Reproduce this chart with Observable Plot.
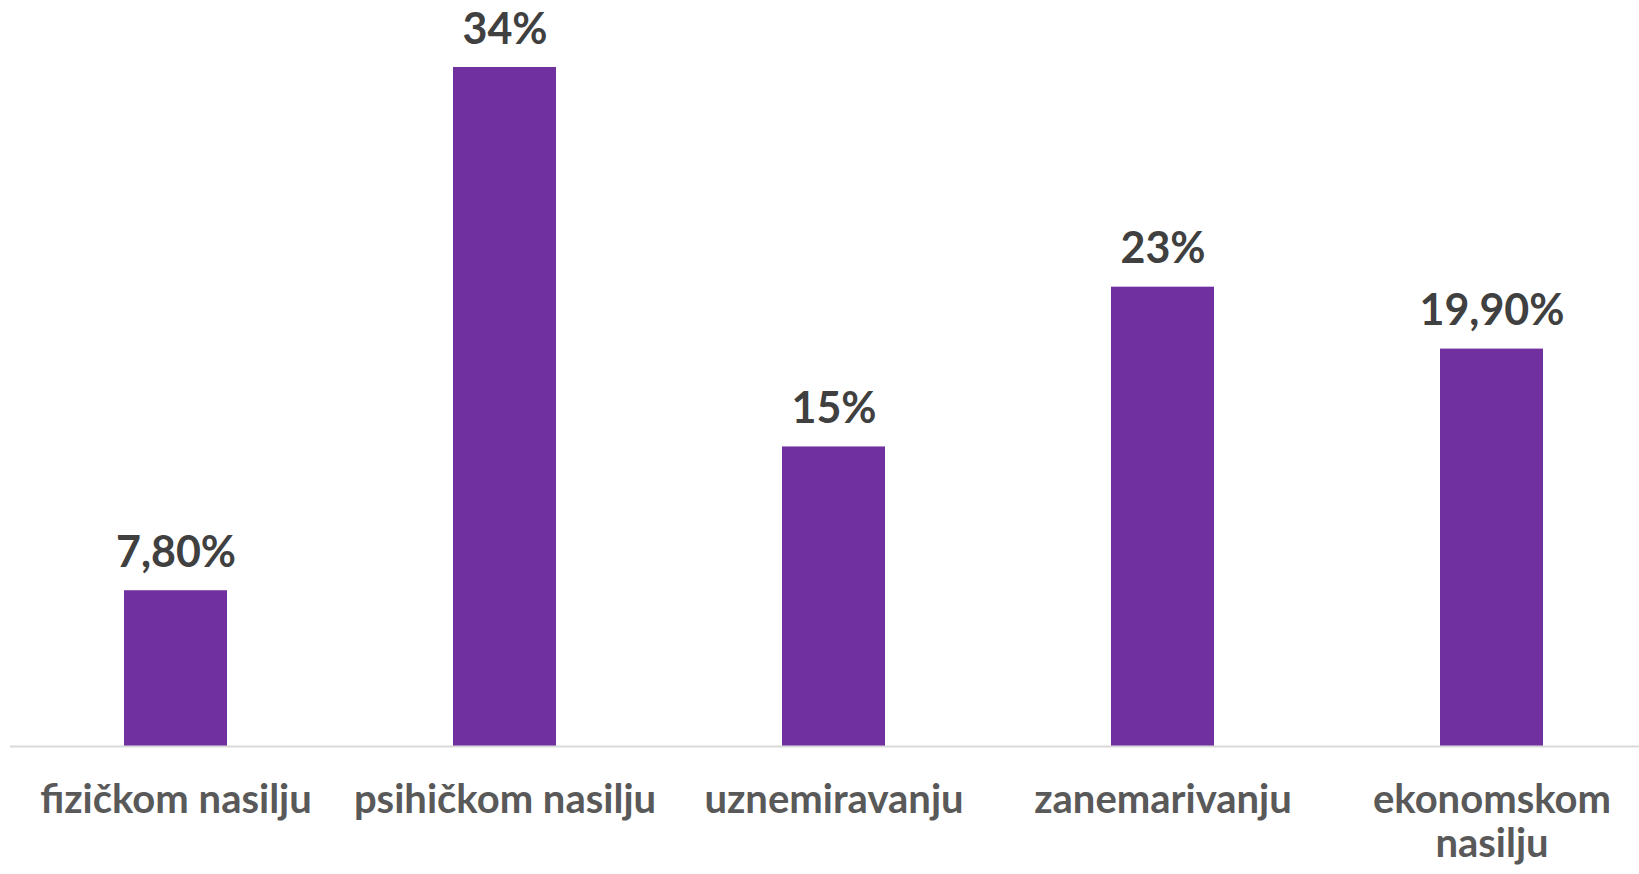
<!DOCTYPE html>
<html>
<head>
<meta charset="utf-8">
<script src="https://cdn.jsdelivr.net/npm/d3@7"></script>
<script src="https://cdn.jsdelivr.net/npm/@observablehq/plot@0.6"></script>
<style>
  html, body { margin: 0; padding: 0; background: #fff; overflow: hidden; }
</style>
</head>
<body>
<div id="chart"></div>
<script>
const categories = ["fizičkom nasilju", "psihičkom nasilju", "uznemiravanju", "zanemarivanju", "ekonomskom nasilju"];
const values = [7.8, 34, 15, 23, 19.9];
const valueLabels = ["7,80%", "34%", "15%", "23%", "19,90%"];

const data = categories.map((c, i) => ({category: c, value: values[i], label: valueLabels[i]}));

const W = 1639, H = 874;
const chart = Plot.plot({
  width: W,
  height: H,
  marginLeft: 10,
  marginRight: 0,
  marginTop: 67,
  marginBottom: 128,
  style: {fontFamily: "Lato, sans-serif", background: "#fff"},
  x: {domain: categories, range: [11, 1656], paddingInner: 0.687, paddingOuter: 0.3435, label: null},
  y: {domain: [0, 34], axis: null},
  marks: [
    Plot.barY(data, {x: "category", y: "value", fill: "#7030a0"}),
    Plot.ruleY([0], {stroke: "#d9d9d9", strokeWidth: 2}),
    Plot.text(data, {x: "category", y: "value", text: "label", lineAnchor: "bottom", dy: -24,
      fill: "#404040", fontSize: 43, fontWeight: "bold"}),
    Plot.axisX({tickSize: 0, tickPadding: 35, fontSize: 40, fontWeight: "bold", fill: "#595959",
      lineHeight: 1.1,
      tickFormat: d => d.length > 17 ? d.replace(" ", "\n") : d})
  ]
});
chart.querySelectorAll("g[aria-label='x-axis tick label'] text").forEach(t => t.setAttribute("fill", "#595959"));
document.getElementById("chart").appendChild(chart);
</script>
</body>
</html>
